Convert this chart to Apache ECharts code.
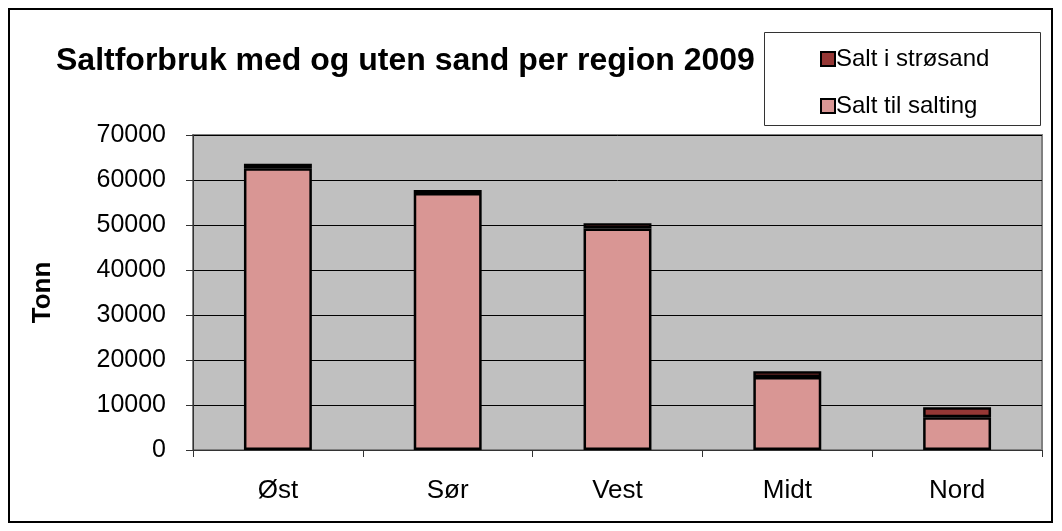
<!DOCTYPE html>
<html>
<head>
<meta charset="utf-8">
<script src="https://cdn.jsdelivr.net/npm/echarts@6/dist/echarts.min.js"></script>
<style>
  html, body { margin: 0; padding: 0; background: #fff; }
  #chart { width: 1062px; height: 531px; }
</style>
</head>
<body>
<div id="chart"></div>
<script>
// regioner og tonn salt
var regions = ['Øst', 'Sør', 'Vest', 'Midt', 'Nord']
var saltTilSalting = [62600, 57100, 49200, 16200, 7300]
var saltIStrosand = [1000, 700, 1200, 1300, 2200]
var yTicks = { min: 0, max: 70000, interval: 10000 }

var chart = echarts.init(document.getElementById('chart'))
var font = 'Liberation Sans, Arial, sans-serif'

var option = {
  animation: false,
  backgroundColor: '#fff',
  textStyle: { fontFamily: font },
  graphic: [
    // ytre ramme
    { type: 'rect', shape: { x: 9, y: 9, width: 1043, height: 513 },
      style: { fill: 'none', stroke: '#000', lineWidth: 2 }, z: 0 },
    // legend-boks
    { type: 'rect', shape: { x: 764.5, y: 32.5, width: 276, height: 93 },
      style: { fill: '#fff', stroke: '#333', lineWidth: 1 }, z: 0 }
  ],
  title: {
    text: 'Saltforbruk med og uten sand per region 2009',
    left: 51,
    top: 40,
    textStyle: { fontFamily: font, fontSize: 32, fontWeight: 'bold', color: '#000' }
  },
  legend: {
    data: ['Salt i strøsand', 'Salt til salting'],
    orient: 'vertical',
    left: 815,
    top: 42,
    itemWidth: 14,
    itemHeight: 14,
    itemGap: 23,
    icon: 'rect',
    textStyle: { fontFamily: font, fontSize: 24, color: '#000', padding: [0, 0, 0, -4] },
    z: 5
  },
  grid: {
    left: 193,
    right: 20,
    top: 135,
    bottom: 81,
    show: true,
    backgroundColor: '#c0c0c0',
    borderColor: '#808080',
    borderWidth: 2
  },
  xAxis: {
    type: 'category',
    data: regions,
    axisLine: { lineStyle: { color: '#333', width: 1 } },
    axisTick: { show: true, length: 7, lineStyle: { color: '#333' } },
    axisLabel: { fontFamily: font, fontSize: 26, color: '#000', margin: 28 }
  },
  yAxis: {
    type: 'value',
    min: yTicks.min,
    max: yTicks.max,
    interval: yTicks.interval,
    name: 'Tonn',
    nameLocation: 'middle',
    nameRotate: 90,
    nameGap: 137,
    nameTextStyle: { fontFamily: font, fontSize: 26, fontWeight: 'bold', color: '#000' },
    axisLine: { show: true, lineStyle: { color: '#333', width: 1 } },
    axisTick: { show: true, length: 7, lineStyle: { color: '#333' } },
    axisLabel: {
      fontFamily: font, fontSize: 25, color: '#000', margin: 27,
      formatter: function (v) { return String(v) }
    },
    splitLine: { show: true, lineStyle: { color: '#000', width: 1 } }
  },
  series: [
    {
      name: 'Salt til salting',
      type: 'bar',
      stack: 'salt',
      barWidth: '40%',
      data: saltTilSalting,
      itemStyle: { color: '#D99694', borderColor: '#000', borderWidth: 2.5 }
    },
    {
      name: 'Salt i strøsand',
      type: 'bar',
      stack: 'salt',
      barWidth: '40%',
      data: saltIStrosand,
      itemStyle: { color: '#953735', borderColor: '#000', borderWidth: 2.5 }
    }
  ]
}
chart.setOption(option)
</script>
</body>
</html>
